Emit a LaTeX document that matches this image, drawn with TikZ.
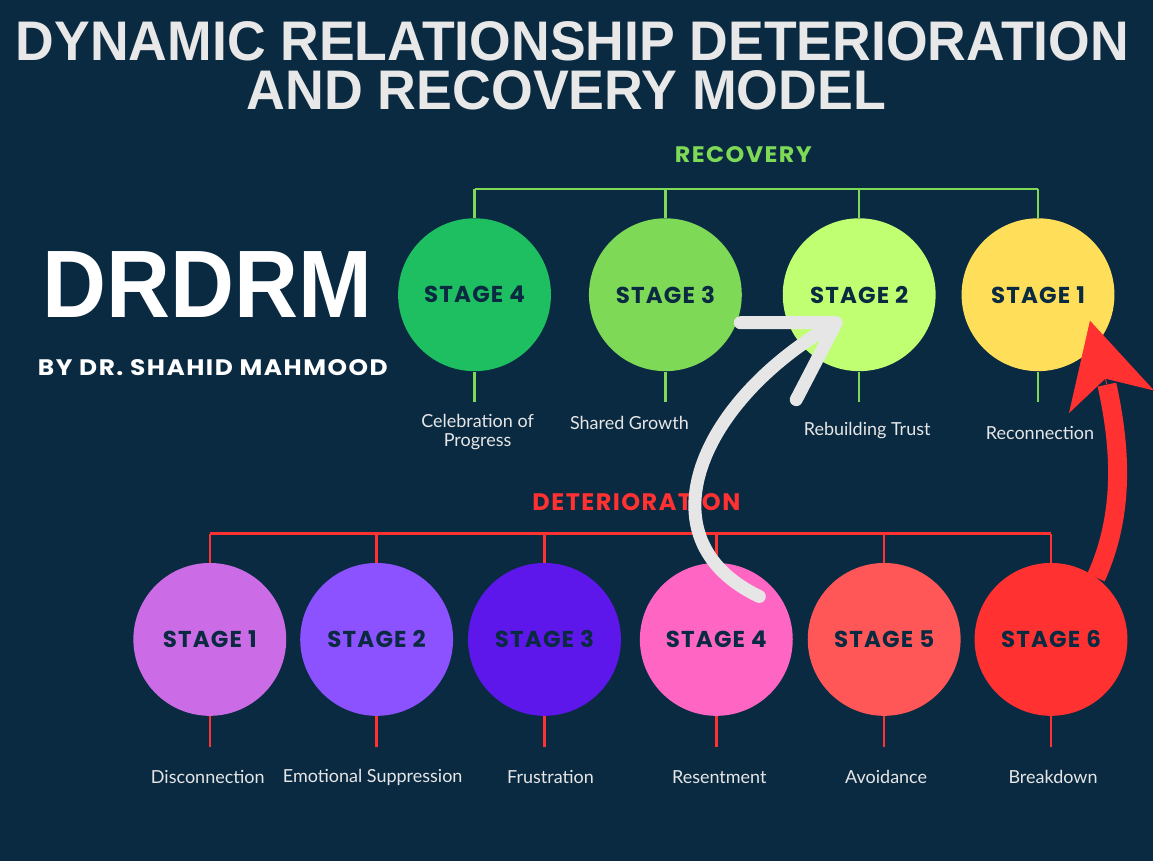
\documentclass[tikz,border=0pt]{standalone}
\usepackage{fontspec}
\usepackage{graphicx}
\usetikzlibrary{positioning,calc,arrows.meta}

\newfontfamily\helvfont{Liberation Sans}
\newfontfamily\headfont{Poppins}[LetterSpace=6]
\newfontfamily\stagefont{Poppins}[LetterSpace=5]
\newfontfamily\descfont{Lato}

\definecolor{bgnavy}{HTML}{0A2A42}
\definecolor{titlegray}{HTML}{E8E8E8}
\definecolor{descgray}{HTML}{E6E6E6}
\definecolor{arrowwhite}{HTML}{E6E6E6}
\definecolor{recgreen}{HTML}{7ED957}
\definecolor{detred}{HTML}{FF3131}
\definecolor{rfour}{HTML}{1DBF60}
\definecolor{rthree}{HTML}{7ED957}
\definecolor{rtwo}{HTML}{C1FF72}
\definecolor{rone}{HTML}{FFDE59}
\definecolor{done}{HTML}{CB6CE6}
\definecolor{dtwo}{HTML}{8C52FF}
\definecolor{dthree}{HTML}{5E17EB}
\definecolor{dfour}{HTML}{FF66C4}
\definecolor{dfive}{HTML}{FF5757}
\definecolor{dsix}{HTML}{FF3131}

\begin{document}
\begin{tikzpicture}[
  x=0.5pt, y=-0.5pt,
  every node/.style={inner sep=0pt},
  stage/.style={circle, minimum size=76.5pt, text=bgnavy,
    font=\stagefont\bfseries\fontsize{11.5}{12}\selectfont},
  desc/.style={align=center, text=descgray,
    font=\descfont\fontsize{9}{9.5}\selectfont},
  heading/.style={anchor=south},
  recline/.style={draw=recgreen, line width=1.2pt},
  detline/.style={draw=detred, line width=1.2pt},
  whitearrow/.style={draw=arrowwhite, line width=6.5pt, line cap=round, line join=round},
  redshaft/.style={draw=detred, line width=9.5pt},
  redhead/.style={draw=detred, fill=detred, line width=0.4pt,
    -{Stealth[length=42pt, width=44pt, inset=12pt]}}
]

% background and frame
\fill[bgnavy] (0,0) rectangle (1154,862);

% titles
\node[heading, text=titlegray] (title1) at (573,62)
  {\resizebox{557pt}{19.5pt}{\helvfont\bfseries DYNAMIC RELATIONSHIP DETERIORATION}};
\node[heading, text=titlegray] (title2) at (567,111)
  {\resizebox{320pt}{19.5pt}{\helvfont\bfseries AND RECOVERY MODEL}};
\node[heading, text=white] (acronym) at (208,318)
  {\resizebox{165pt}{33pt}{\helvfont\bfseries DRDRM}};
\node[heading, text=white] (author) at (213,376)
  {\resizebox{175pt}{8pt}{\headfont\bfseries BY DR. SHAHID MAHMOOD}};
\node[heading, text=recgreen] (rechead) at (744,163)
  {\resizebox{68.5pt}{8pt}{\headfont\bfseries RECOVERY}};
\node[heading, text=detred] (dethead) at (637,512)
  {\resizebox{104pt}{8.5pt}{\headfont\bfseries DETERIORATION}};

% recovery stages
\coordinate (rbar) at (0,189);
\foreach \n/\x/\col/\lx/\ly/\lab in {
    4/475/rfour/478/432/{Celebration of\\Progress},
    3/666/rthree/630/423/{Shared Growth},
    2/860/rtwo/868/431/{Rebuilding Trust},
    1/1039/rone/1041/433/{Reconnection}} {
  \node[stage, fill=\col] (r\n) at (\x,295) {STAGE \n};
  \draw[recline] (r\n.north) -- (r\n.north |- rbar);
  \draw[recline] (r\n.south) -- ++(0,30) coordinate (rs\n);
  \node[desc] (rl\n) at (\lx,\ly) {\lab};
}
\draw[recline] (r4.north |- rbar) -- (r1.north |- rbar);

% deterioration stages
\coordinate (dbar) at (0,534);
\foreach \n/\x/\col/\lx/\lab in {
    1/210/done/208/{Disconnection},
    2/377/dtwo/373/{Emotional Suppression},
    3/545/dthree/551/{Frustration},
    4/717/dfour/720/{Resentment},
    5/885/dfive/887/{Avoidance},
    6/1052/dsix/1054/{Breakdown}} {
  \node[stage, fill=\col] (d\n) at (\x,640) {STAGE \n};
  \draw[detline] (d\n.north) -- (d\n.north |- dbar);
  \draw[detline] (d\n.south) -- ++(0,31) coordinate (ds\n);
  \node[desc] (dl\n) at (\lx,778) {\lab};
}
\draw[detline] (d1.north |- dbar) -- (d6.north |- dbar);

% white arrow: stage 4 -> recovery stage 2
\coordinate (wstart) at ($(d4.center)+(43,-43)$);
\coordinate (wtip) at ($(r2.center)+(-23,28)$);
\draw[whitearrow] (wstart) .. controls +(-120,-57) and +(-137,77) .. (wtip)
  -- +(-96,0) (wtip) -- +(-40,77);

% red arrow: stage 6 -> recovery stage 1
\coordinate (rstart) at ($(d6.center)+(45,-62)$);
\coordinate (rtip) at ($(r1.center)+(52,26)$);
\coordinate (rneck) at ($(rtip)+(17,64)$);
\draw[redshaft] (rstart) .. controls +(31,-68) and +(12,55) .. (rneck);
\draw[redhead] (rneck) -- (rtip);

\end{tikzpicture}
\end{document}
